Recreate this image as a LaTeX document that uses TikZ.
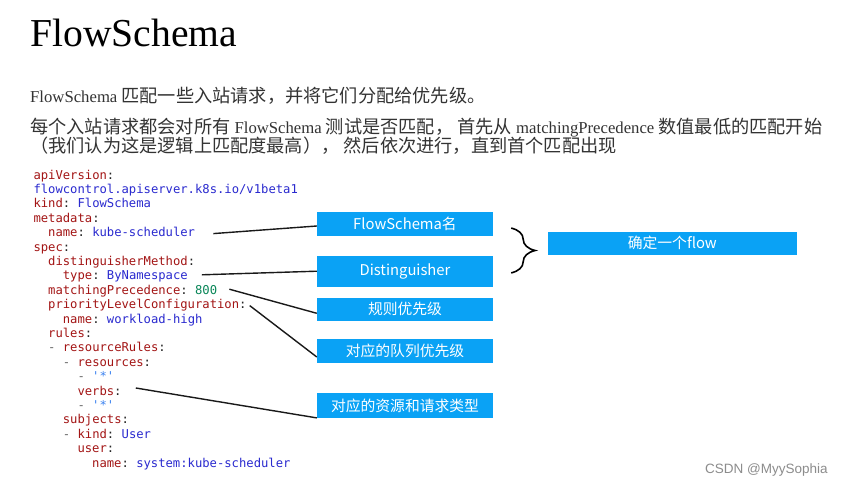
\documentclass[tikz,border=0pt]{standalone}
\usepackage{fontspec}
\setmainfont{Liberation Serif}
\setmonofont{DejaVu Sans Mono}
\newfontfamily\cjk{Noto Sans CJK SC}
\newfontfamily\wmfont{Liberation Sans}
\usepackage{tikz}
\usetikzlibrary{positioning,decorations.pathreplacing}
\definecolor{tagblue}{HTML}{0AA2F5}
\definecolor{keyred}{HTML}{A31515}
\definecolor{valblue}{HTML}{2A2ACF}
\definecolor{starblue}{HTML}{3B82F0}
\definecolor{numgreen}{HTML}{098658}
\definecolor{dashgray}{HTML}{666666}
\definecolor{wmgray}{HTML}{8C8C8C}
\definecolor{bodytext}{HTML}{333333}
\newcommand\yk[1]{\textcolor{keyred}{#1}\textcolor{black!85}{:}}
\newcommand\yv[1]{\textcolor{valblue}{#1}}
\newcommand\ystar{\textcolor{starblue}{'*'}}
\newcommand\ydash{\textcolor{dashgray}{-} }
\newcommand\zh[1]{{\cjk\fontsize{18.2}{20}\selectfont #1}}
\tikzset{
  para/.style={anchor=base west, inner sep=0pt, text=bodytext, font=\fontsize{16.7}{20}\selectfont},
  code/.style={anchor=base west, inner sep=0pt, text height=8pt, text depth=2pt, font=\ttfamily\fontsize{12.2}{14}\selectfont},
  tag/.style={fill=tagblue, text=white, inner sep=0pt, minimum width=176pt, minimum height=23.4pt, font=\cjk\fontsize{14.8}{16}\selectfont},
  link/.style={draw=black!90, line width=1.4pt},
  bracket/.style={draw=black, line width=1.6pt, decorate, decoration={brace, amplitude=24pt}}
}
\begin{document}
\begin{tikzpicture}[x=1pt,y=-1pt]
  \useasboundingbox[fill=white] (0,0) rectangle (844,487);

  \node[anchor=base west, inner sep=0pt, font=\fontsize{39.6}{44}\selectfont] (title) at (30,47) {FlowSchema};
  \node[para] (intro) at (30,102.3) {FlowSchema \zh{匹配一些入站请求，并将它们分配给优先级。}};
  \node[para] (rule1) at (30,133.3) {\zh{每个入站请求都会对所有} FlowSchema \zh{测试是否匹配， 首先从} matchingPrecedence \zh{数值最低的匹配开始}};
  \node[para] (rule2) at (30,152) {\zh{（我们认为这是逻辑上匹配度最高）， 然后依次进行，直到首个匹配出现}};

  \node[code] (c0) at (33.3,179) {\yk{apiVersion}};
  \node[code] (c1) at (33.3,193.4) {\yv{flowcontrol.apiserver.k8s.io/v1beta1}};
  \node[code] (c2) at (33.3,207.8) {\yk{kind} \yv{FlowSchema}};
  \node[code] (c3) at (33.3,222.2) {\yk{metadata}};
  \node[code] (c4) at (48,236.6) {\yk{name} \yv{kube-scheduler}};
  \node[code] (c5) at (33.3,251) {\yk{spec}};
  \node[code] (c6) at (48,265.4) {\yk{distinguisherMethod}};
  \node[code] (c7) at (62.7,279.8) {\yk{type} \yv{ByNamespace}};
  \node[code] (c8) at (48,294.2) {\yk{matchingPrecedence} \textcolor{numgreen}{800}};
  \node[code] (c9) at (48,308.6) {\yk{priorityLevelConfiguration}};
  \node[code] (c10) at (62.7,323) {\yk{name} \yv{workload-high}};
  \node[code] (c11) at (48,337.4) {\yk{rules}};
  \node[code] (c12) at (48,351.8) {\ydash\yk{resourceRules}};
  \node[code] (c13) at (62.7,366.2) {\ydash\yk{resources}};
  \node[code] (c14) at (77.3,380.6) {\ydash\ystar};
  \node[code] (c15) at (77.3,395) {\yk{verbs}};
  \node[code] (c16) at (77.3,409.4) {\ydash\ystar};
  \node[code] (c17) at (62.7,423.8) {\yk{subjects}};
  \node[code] (c18) at (62.7,438.2) {\ydash\yk{kind} \yv{User}};
  \node[code] (c19) at (77.3,452.6) {\yk{user}};
  \node[code] (c20) at (92,467) {\yk{name} \yv{system:kube-scheduler}};

  \node[tag] (fsname) at (405,224) {FlowSchema名};
  \node[tag, minimum height=31pt] (dist) at (405,271.2) {Distinguisher};
  \node[tag] (prio) at (405,309.3) {规则优先级};
  \node[tag] (queue) at (405,351) {对应的队列优先级};
  \node[tag, minimum height=24.4pt] (res) at (405,405.5) {对应的资源和请求类型};
  \node[tag, minimum width=249pt] (flow) at (672.3,243.3) {确定一个flow};

  \draw[link] ([xshift=18pt]c4.east) -- ([yshift=-2pt]fsname.west);
  \draw[link] ([xshift=14pt,yshift=2pt]c7.east) -- (dist.west);
  \draw[link] ([xshift=12pt,yshift=2pt]c8.east) -- ([yshift=-4pt]prio.west);
  \draw[link] ([xshift=3pt]c9.east) -- ([yshift=-6pt]queue.west);
  \draw[link] ([xshift=14pt,yshift=4pt]c15.east) -- (res.south west);

  \draw[bracket] ([xshift=18pt,yshift=-16pt]fsname.north east) -- ([xshift=18pt,yshift=14pt]dist.south east);

  \node[anchor=west, inner sep=0pt, text=wmgray, font=\wmfont\fontsize{13.5}{15}\selectfont] (mark) at (705,470) {CSDN @MyySophia};
\end{tikzpicture}
\end{document}
